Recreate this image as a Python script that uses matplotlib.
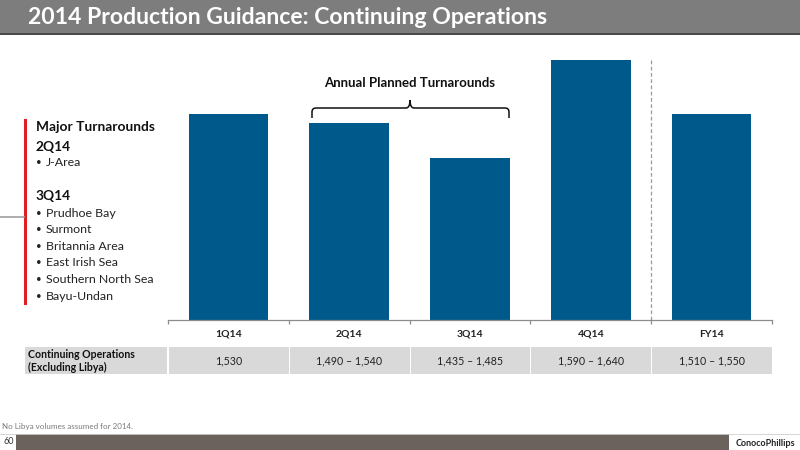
import matplotlib
matplotlib.use("Agg")
import matplotlib.pyplot as plt
from matplotlib.patches import Rectangle, PathPatch
from matplotlib.path import Path

plt.rcParams['font.family'] = ['Lato', 'DejaVu Sans']

categories = ["1Q14", "2Q14", "3Q14", "4Q14", "FY14"]
production = [1530, 1515, 1460, 1615, 1530]
table_labels = ["1,530", "1,490 \u2013 1,540", "1,435 \u2013 1,485", "1,590 \u2013 1,640", "1,510 \u2013 1,550"]
row_label = "Continuing Operations\n(Excluding Libya)"
title = "2014 Production Guidance: Continuing Operations"
turnaround_2q = ["J-Area"]
turnaround_3q = ["Prudhoe Bay", "Surmont", "Britannia Area", "East Irish Sea",
                 "Southern North Sea", "Bayu-Undan"]

W, H = 800, 450
fig = plt.figure(figsize=(8, 4.5), dpi=100)

def fx(px):
    return px / W

def fy(py):
    return 1 - py / H

BLUE = "#00598b"

# Title bar
fig.patches.append(Rectangle((0, fy(33)), 1, 33 / H, transform=fig.transFigure,
                             facecolor="#7d7d7d", edgecolor="none", zorder=0))
fig.patches.append(Rectangle((0, fy(35)), 1, 2 / H, transform=fig.transFigure,
                             facecolor="#4a4a4a", edgecolor="none", zorder=0))
fig.text(fx(28), fy(17), title, color="white", fontsize=16.6, fontweight="bold",
         va="center", ha="left")

# Main axes
ax = fig.add_axes([fx(168), fy(320), fx(772) - fx(168), (320 - 40) / H])
x = list(range(len(categories)))
ax.bar(x, production, width=0.66, color=BLUE, zorder=2)
ax.set_xlim(-0.5, len(categories) - 0.5)
ax.set_ylim(1203, 1647)
for s in ["top", "right", "left"]:
    ax.spines[s].set_visible(False)
ax.spines["bottom"].set_color("#8c8c8c")
ax.spines["bottom"].set_linewidth(0.9)
ax.set_yticks([])
ax.set_xticks(x)
ax.set_xticklabels(categories, fontsize=7.5, fontweight="bold", color="#222222")
ax.tick_params(axis="x", which="major", length=0, pad=7)
ax.set_xticks([i - 0.5 for i in range(len(categories) + 1)], minor=True)
ax.tick_params(axis="x", which="minor", length=3, color="#8c8c8c", width=0.9)
ax.patch.set_alpha(0)

# Dashed separator between 4Q14 and FY14
ax.plot([3.5, 3.5], [1203, 1617], color="#9a9a9a", lw=0.9, ls=(0, (3, 2)),
        zorder=1, clip_on=False)

# Annual planned turnarounds brace
x0, x1, xm = fx(312), fx(509), fx(410)
yl, yend, ytip = fy(108), fy(118), fy(100)
r = 4 / W
ry = 4 / H
verts = [
    (x0, yend), (x0, yl - ry), (x0, yl), (x0 + r, yl),
    (xm - r, yl), (xm, yl), (xm, ytip),
    (xm, yl), (xm + r, yl),
    (x1 - r, yl), (x1, yl), (x1, yl - ry), (x1, yend),
]
codes = [
    Path.MOVETO, Path.LINETO, Path.CURVE3, Path.CURVE3,
    Path.LINETO, Path.CURVE3, Path.CURVE3,
    Path.CURVE3, Path.CURVE3,
    Path.LINETO, Path.CURVE3, Path.CURVE3, Path.LINETO,
]
fig.patches.append(PathPatch(Path(verts, codes), transform=fig.transFigure,
                             facecolor="none", edgecolor="#111111", lw=1.1))
fig.text(fx(410), fy(83), "Annual Planned Turnarounds", fontsize=9.5,
         fontweight="bold", ha="center", va="center", color="#111111")

# Table row
row_top, row_bot = 347, 374
fig.patches.append(Rectangle((fx(25), fy(row_bot)), fx(167) - fx(25),
                             (row_bot - row_top) / H, transform=fig.transFigure,
                             facecolor="#d9d9d9", edgecolor="none"))
for i, lab in enumerate(table_labels):
    left = ax.transData.transform((i - 0.5, 0))[0] / W
    right = ax.transData.transform((i + 0.5, 0))[0] / W
    fig.patches.append(Rectangle((left + 1 / W, fy(row_bot)), right - left - 1 / W,
                                 (row_bot - row_top) / H, transform=fig.transFigure,
                                 facecolor="#d9d9d9", edgecolor="none"))
    fig.text((left + right) / 2, fy((row_top + row_bot) / 2), lab, fontsize=7.7,
             ha="center", va="center", color="#222222")
fig.text(fx(28), fy(361), row_label, fontsize=7.6, fontweight="bold",
         ha="left", va="center", color="#111111", linespacing=1.3)

# Left panel: major turnarounds
fig.add_artist(plt.Line2D([fx(25), fx(25)], [fy(120), fy(303)], color="#e02020",
                          lw=2.2, transform=fig.transFigure))
fig.add_artist(plt.Line2D([0, fx(24)], [fy(217), fy(217)], color="#a0a0a0",
                          lw=1.2, transform=fig.transFigure))
fig.text(fx(36), fy(127), "Major Turnarounds", fontsize=9.9, fontweight="bold",
         ha="left", va="center", color="#111111")
fig.text(fx(36), fy(147), "2Q14", fontsize=9.9, fontweight="bold",
         ha="left", va="center", color="#111111")
y = 163
for item in turnaround_2q:
    fig.text(fx(36), fy(y), "\u2022", fontsize=7, ha="left", va="center", color="#222222")
    fig.text(fx(46), fy(y), item, fontsize=8.9, ha="left", va="center", color="#222222")
fig.text(fx(36), fy(196), "3Q14", fontsize=9.9, fontweight="bold",
         ha="left", va="center", color="#111111")
y = 213
for item in turnaround_3q:
    fig.text(fx(36), fy(y), "\u2022", fontsize=7, ha="left", va="center", color="#222222")
    fig.text(fx(46), fy(y), item, fontsize=8.9, ha="left", va="center", color="#222222")
    y += 16.6

# Footnote
fig.text(fx(2), fy(426), "No Libya volumes assumed for 2014.", fontsize=5.8,
         ha="left", va="center", color="#7a7a7a")

# Bottom bar
fig.patches.append(Rectangle((fx(16), 0), fx(729) - fx(16), 16 / H,
                             transform=fig.transFigure, facecolor="#6b625e",
                             edgecolor="none"))
fig.add_artist(plt.Line2D([0, 1], [fy(433.5), fy(433.5)], color="#cfcfcf", lw=0.6,
                          transform=fig.transFigure))
fig.text(fx(4), fy(442), "60", fontsize=6.5, ha="left", va="center", color="#333333")
fig.text(fx(765), fy(443), "ConocoPhillips", fontsize=6.5, fontweight="bold",
         ha="center", va="center", color="#222222")

fig.savefig("out.png", dpi=100)
